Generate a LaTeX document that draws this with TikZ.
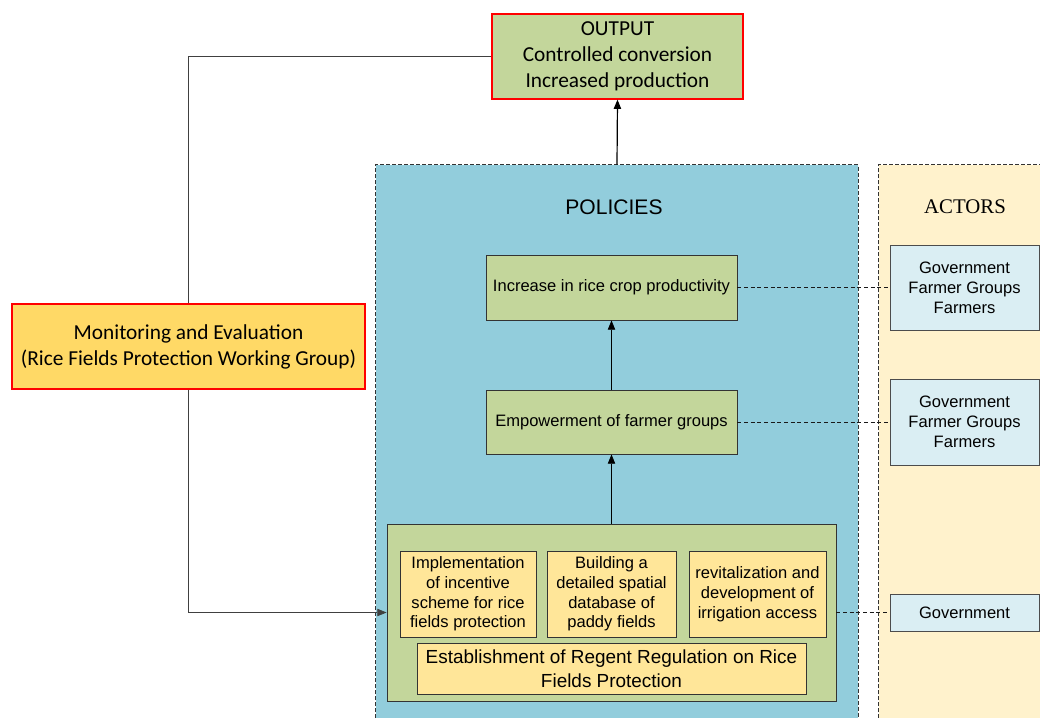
\documentclass[tikz,border=0pt]{standalone}
\usepackage{fontspec}
\setmainfont{Liberation Sans}
\newfontfamily\calibrifont{Carlito}
\newfontfamily\timesfont{Liberation Serif}
\usetikzlibrary{arrows.meta,fit}
\definecolor{boxgreen}{HTML}{C3D69B}
\definecolor{polblue}{HTML}{92CDDC}
\definecolor{actbg}{HTML}{FFF2CC}
\definecolor{actbox}{HTML}{DAEEF3}
\definecolor{inyellow}{HTML}{FFE699}
\definecolor{monyellow}{HTML}{FFD966}
\begin{document}
\begin{tikzpicture}[x=0.75pt,y=-0.75pt,
  sz/.style 2 args={minimum width=#1*0.75pt, minimum height=#2*0.75pt},
  redbox/.style={draw=red, line width=0.9pt, inner sep=0pt, align=center,
    font=\calibrifont\fontsize{16}{19.5}\selectfont},
  greenbox/.style={draw=black!80, fill=boxgreen, line width=0.6pt, inner sep=0pt, align=center,
    font=\fontsize{12.4}{14.8}\selectfont},
  yellowbox/.style={draw=black!80, fill=inyellow, line width=0.6pt, inner sep=0pt, align=center,
    font=\fontsize{12.4}{14.8}\selectfont},
  actorbox/.style={draw=black!70, fill=actbox, line width=0.6pt, inner sep=0pt, align=center,
    font=\fontsize{12.4}{15}\selectfont},
  container/.style={inner sep=0pt},
  cborder/.style={draw=black!80, line width=0.5pt, dash pattern=on 3pt off 1.5pt},
  arr/.style={-{Triangle[length=7pt,width=5.5pt]}, line width=0.9pt},
  monline/.style={draw=black!75, line width=0.6pt},
  link/.style={draw=black!90, line width=0.7pt, dash pattern=on 3pt off 2pt}
]
\useasboundingbox (0,0) rectangle (1040,718);

% containers
\node[container, fill=polblue, fit={(376,165) (858,718)}] (pol) {};
\draw[cborder] (pol.south west) -- (pol.north west) -- (pol.north east) -- (pol.south east);
\node[container, fill=actbg, fit={(879,165) (1040,718)}] (act) {};
\draw[cborder] (act.south west) -- (act.north west) -- (act.north east);

\node[font=\fontsize{15.8}{18}\selectfont] (poltitle) at (614,207) {POLICIES};
\node[font=\timesfont\fontsize{15.6}{18}\selectfont] (acttitle) at (965,207) {ACTORS};

% output and monitoring
\node[redbox, fill=boxgreen, sz={251}{85}] (out) at (617.5,56.5) {OUTPUT\\Controlled conversion\\Increased production};
\node[redbox, fill=monyellow, sz={353}{85}] (mon) at (188.5,346.5) {Monitoring and Evaluation\\(Rice Fields Protection Working Group)};

% policies
\node[greenbox, sz={251}{65}] (incr) at (611.5,287.5) {Increase in rice crop productivity};
\node[greenbox, sz={251}{64}] (emp) at (611.5,422) {Empowerment of farmer groups};
\node[greenbox, sz={449}{177}] (big) at (611.5,612.5) {};
\node[yellowbox, sz={136}{86}] (impl) at (468,594) {Implementation\\of incentive\\scheme for rice\\fields protection};
\node[yellowbox, sz={129}{86}] (build) at (611.5,594) {Building a\\detailed spatial\\database of\\paddy fields};
\node[yellowbox, sz={137}{86}] (revit) at (757.5,594) {revitalization and\\development of\\irrigation access};
\node[yellowbox, font=\fontsize{14.2}{18}\selectfont, sz={389}{51}] (estab) at (611.5,668.5) {Establishment of Regent Regulation on Rice\\Fields Protection};

% actors
\node[actorbox, sz={149}{85}] (act1) at (964.5,287.5) {Government\\Farmer Groups\\Farmers};
\node[actorbox, sz={149}{86}] (act2) at (964.5,422) {Government\\Farmer Groups\\Farmers};
\node[actorbox, sz={149}{37}] (act3) at (964.5,612.5) {Government};

% connectors
\draw[arr] (pol.north) -- (out.south);
\draw[arr, line width=0.6pt] (emp.north) -- (incr.south);
\draw[arr, line width=0.6pt] (big.north) -- (emp.south);
\draw[monline] (mon.north) |- (out.west);
\draw[monline, arr, line width=0.6pt] (mon.south) |- (big.west);
\draw[link] (incr.east) -- (act1.west);
\draw[link] (emp.east) -- (act2.west);
\draw[link] (big.east) -- (act3.west);
\end{tikzpicture}
\end{document}
